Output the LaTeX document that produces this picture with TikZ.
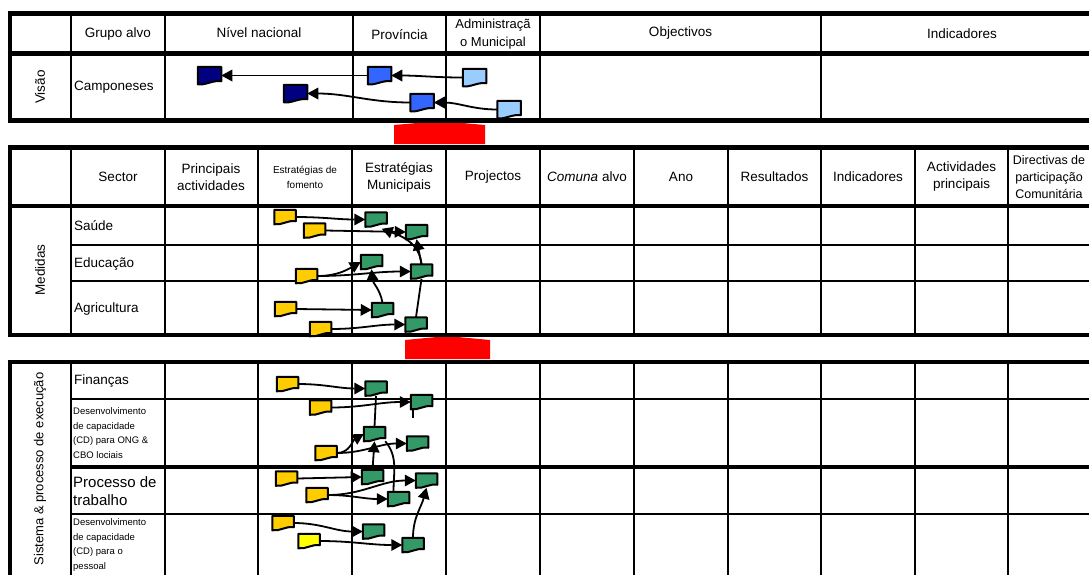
\documentclass[tikz,border=0pt]{standalone}
\usepackage{fontspec}
\setmainfont{Liberation Sans}
\usetikzlibrary{arrows.meta}
\definecolor{navy}{HTML}{000080}
\definecolor{midblue}{HTML}{3366FF}
\definecolor{lightblue}{HTML}{99CCFF}
\definecolor{gold}{HTML}{FFCC00}
\definecolor{brightyellow}{HTML}{FFFF00}
\definecolor{boxgreen}{HTML}{339966}
\pgfdeclarelayer{back}
\pgfdeclarelayer{mid}
\pgfsetlayers{back,mid,main}
% document-shaped box: name, fill colour, position, size style
\newcommand\dbox[4]{%
  \node[#4] (#1) at (#3) {};
  \filldraw[fill=#2, draw=black, line width=2pt, line join=round]
    (#1.north west) -- (#1.north east) -- ([yshift=3pt]#1.south east)
    .. controls ([xshift=-8pt,yshift=4.5pt]#1.south east) and ([xshift=7pt,yshift=-1.5pt]#1.south west) ..
    (#1.south west) -- cycle;}
\begin{document}
\begin{tikzpicture}[x=1pt,y=1pt,
 sbox/.style={shape=rectangle, minimum width=19.5pt, minimum height=12.5pt, inner sep=0pt, outer sep=1pt},
 bbox/.style={sbox, minimum width=21.5pt, minimum height=15.5pt},
 arr/.style={line width=1.8pt, -{Triangle[length=11pt,width=11.5pt]}},
 ln/.style={line width=1.8pt},
 thk/.style={line width=4.5pt},
 thn/.style={line width=2pt},
 lbl/.style={font=\fontsize{13.5}{17}\selectfont, align=center, inner sep=0pt},
 lft/.style={font=\fontsize{13.5}{17}\selectfont, align=left, anchor=west, inner sep=0pt},
 sml/.style={font=\fontsize{9.5}{14.5}\selectfont, align=left, anchor=west, inner sep=0pt},
]
\useasboundingbox (0,0) rectangle (1089,-574);
\clip (0,0) rectangle (1089,-574);

% ---------- boxes ----------
\dbox{N1}{navy}{209.5,-75.5}{bbox}
\dbox{P1}{midblue}{379.5,-75.5}{bbox}
\dbox{A1}{lightblue}{474.5,-77.5}{bbox}
\dbox{N2}{navy}{295.5,-93.5}{bbox}
\dbox{P2}{midblue}{422,-102.5}{bbox}
\dbox{A2}{lightblue}{509,-109.5}{bbox}

\dbox{Y1}{gold}{285,-217}{sbox}
\dbox{Y2}{gold}{314.5,-230.5}{sbox}
\dbox{Y3}{gold}{306.5,-276}{sbox}
\dbox{Y4}{gold}{285.5,-309}{sbox}
\dbox{Y5}{gold}{320.5,-329}{sbox}
\dbox{G1}{boxgreen}{376,-219.5}{sbox}
\dbox{G2}{boxgreen}{416.5,-232}{sbox}
\dbox{G3}{boxgreen}{371.5,-262}{sbox}
\dbox{G4}{boxgreen}{421.5,-271.5}{sbox}
\dbox{G5}{boxgreen}{382.5,-310}{sbox}
\dbox{G6}{boxgreen}{416,-324.5}{sbox}

\dbox{Y6}{gold}{287.5,-384}{sbox}
\dbox{G7}{boxgreen}{376,-388.5}{sbox}
\dbox{Y7}{gold}{320.5,-407.5}{sbox}
\dbox{G8}{boxgreen}{421.5,-402}{sbox}
\dbox{G9}{boxgreen}{374.5,-434}{sbox}
\dbox{G10}{boxgreen}{417.5,-443.5}{sbox}
\dbox{Y8}{gold}{326,-453}{sbox}
\dbox{Y9}{gold}{286.5,-478.5}{sbox}
\dbox{G11}{boxgreen}{372.5,-477}{sbox}
\dbox{Y10}{gold}{317,-495}{sbox}
\dbox{G12}{boxgreen}{426.5,-480.5}{sbox}
\dbox{G13}{boxgreen}{398.5,-499}{sbox}
\dbox{Y11}{gold}{283,-523}{sbox}
\dbox{G14}{boxgreen}{373.5,-531.5}{sbox}
\dbox{Y12}{brightyellow}{309,-541}{sbox}
\dbox{G15}{boxgreen}{413,-545}{sbox}

% ---------- texts ----------
\node[lbl] (t1) at (118,-34) {Grupo alvo};
\node[lbl] (t2) at (259,-33) {Nível nacional};
\node[lbl] (t3) at (399.5,-35) {Província};
\node[lbl, font=\fontsize{13}{18}\selectfont] (t4) at (493,-34) {Administraçã\\o Municipal};
\node[lbl] (t5) at (680.5,-33.5) {Objectivos};
\node[lbl] (t6) at (962,-33.5) {Indicadores};
\node[lbl, rotate=90] (vVisao) at (40,-87) {Visão};
\node[lft] (t7) at (74,-87) {Camponeses};

\node[lbl] (m1) at (118,-177) {Sector};
\node[lbl] (m2) at (211,-177) {Principais\\actividades};
\node[lbl, font=\fontsize{10}{15}\selectfont] (m3) at (305,-177) {Estratégias de\\fomento};
\node[lbl] (m4) at (399,-177) {Estratégias\\Municipais};
\node[lbl] (m5) at (493,-177) {Projectos};
\node[lbl] (m6) at (587,-177) {\textit{Comuna} alvo};
\node[lbl] (m7) at (681,-177) {Ano};
\node[lbl] (m8) at (774.5,-177) {Resultados};
\node[lbl] (m9) at (868,-177) {Indicadores};
\node[lbl] (m10) at (961.5,-177) {Actividades\\principais};
\node[lbl, font=\fontsize{12.5}{17}\selectfont] (m11) at (1049,-177) {Directivas de\\participação\\Comunitária};
\node[lbl, rotate=90] (vMedidas) at (40,-270) {Medidas};
\node[lft] (r1) at (74,-226) {Saúde};
\node[lft] (r2) at (74,-264) {Educação};
\node[lft] (r3) at (74,-309) {Agricultura};

\node[lbl, rotate=90, font=\fontsize{13}{16}\selectfont] (vSistema) at (40,-469) {Sistema \& processo de execução};
\node[lft] (s1) at (74,-381) {Finanças};
\node[sml] (s2) at (73,-433) {Desenvolvimento\\de capacidade\\(CD) para ONG \&\\CBO lociais};
\node[lft, font=\fontsize{15}{17.5}\selectfont] (s3) at (73,-491) {Processo de\\trabalho};
\node[sml] (s4) at (73,-545) {Desenvolvimento\\de capacidade\\(CD) para o\\pessoal};

% ---------- connectors ----------
\begin{pgfonlayer}{mid}
\draw[arr] (P1.west) -- (N1.east);
\draw[arr] (A1.west) to[out=180,in=0] (P1.east);
\draw[arr] (P2.west) to[out=180,in=0] (N2.east);
\draw[arr] (A2.west) to[out=180,in=0] (P2.east);

\draw[arr] (Y1.east) to[out=0,in=180] (G1.west);
\draw[arr] (Y2.east) -- (G2.west);
\draw[arr, shorten >=6pt] (G4.north) to[out=95,in=-20] (G1.south);
\draw[arr] (G4.north) -- (G2.south);
\draw[arr] (Y3.east) to[out=0,in=-150] (G3.west);
\draw[arr] (Y3.east) to[out=0,in=180] (G4.west);
\draw[arr] (G5.north) to[out=100,in=-85] (G3.south);
\draw[arr] (Y4.east) -- (G5.west);
\draw[arr] (Y5.east) to[out=0,in=180] (G6.west);
\draw[ln] (G6.north) -- (G4.south);

\draw[arr] (Y6.east) to[out=0,in=180] (G7.west);
\draw[arr] (Y7.east) to[out=0,in=180] (G8.west);
\coordinate (tk) at (413,-418);
\draw[ln] (tk |- G8.south) -- (tk);
\draw[ln] (G7.south) -- (G9.north);
\draw[arr] (Y8.east) to[out=0,in=-150] (G9.west);
\draw[arr] (Y8.east) to[out=0,in=180] (G10.west);
\draw[arr] (G11.north) -- (G9.south);
\draw[ln] (G9.south east) to[out=-50,in=90] ([xshift=-5pt]G13.north);
\draw[arr] (Y10.east) to[out=0,in=180] (G13.west);
\draw[arr] (Y10.east) to[out=0,in=180] (G12.west);
\draw[arr] (G15.north) to[out=90,in=-105] (G12.south);
\draw[arr] (Y9.east) -- (G11.west);
\draw[arr] (Y11.east) to[out=0,in=180] (G14.west);
\draw[arr] (Y12.east) to[out=0,in=180] (G15.west);
\end{pgfonlayer}

% ---------- tables ----------
\begin{pgfonlayer}{back}
\fill[red] (394,-144) -- (394,-125) -- (440,-121) -- (485,-125) -- (485,-144) -- cycle;
\fill[red] (405,-359) -- (405,-340) -- (447,-336) -- (490,-340) -- (490,-359) -- cycle;

% top table
\foreach \x in {71,165,352.5,446,540,821} \draw[thn] (\x,-13.5) -- (\x,-120.5);
\draw[thk] (7.5,-13.5) -- (1100,-13.5);
\draw[thk] (7.5,-53.5) -- (1100,-53.5);
\draw[thk] (7.5,-120.5) -- (1100,-120.5);
\draw[line width=4pt] (9.5,-11.25) -- (9.5,-122.75);

% middle table
\foreach \x in {71,165,257.5,352,446,540,634,728,821,915,1008} \draw[thn] (\x,-147.5) -- (\x,-335);
\draw[line width=2.5pt] (71,-245) -- (1100,-245);
\draw[line width=2.5pt] (71,-281) -- (1100,-281);
\draw[thk] (7.5,-147.5) -- (1100,-147.5);
\draw[thk] (7.5,-206) -- (1100,-206);
\draw[thk] (7.5,-335) -- (1100,-335);
\draw[line width=4pt] (9.5,-145.25) -- (9.5,-337.25);

% bottom table
\foreach \x in {71,165,257.5,352,446,540,634,728,821,915,1008} \draw[thn] (\x,-362) -- (\x,-580);
\draw[line width=2.5pt] (71,-399) -- (1100,-399);
\draw[line width=3.2pt] (71,-467) -- (1100,-467);
\draw[line width=2.5pt] (71,-514) -- (1100,-514);
\draw[thk] (7.5,-362) -- (1100,-362);
\draw[line width=4pt] (9.5,-360) -- (9.5,-580);
\end{pgfonlayer}
\end{tikzpicture}
\end{document}
